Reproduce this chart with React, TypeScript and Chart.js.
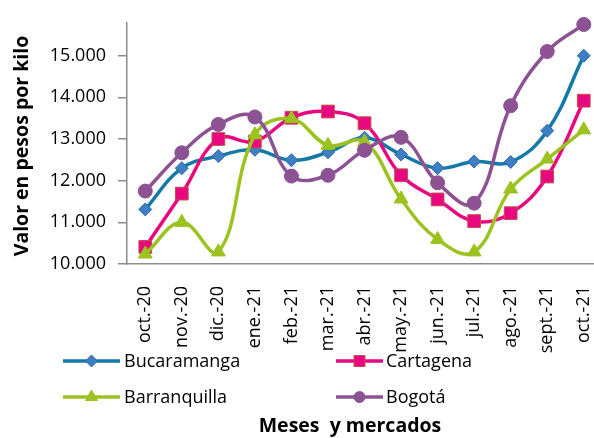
import { useEffect, useRef } from 'react';
import { Chart, registerables } from 'chart.js';
Chart.register(...registerables);

const categories = ['oct.-20', 'nov.-20', 'dic.-20', 'ene.-21', 'feb.-21', 'mar.-21', 'abr.-21', 'may.-21', 'jun.-21', 'jul.-21', 'ago.-21', 'sept.-21', 'oct.-21'];
const bucaramanga = [11310, 12300, 12590, 12740, 12490, 12680, 13030, 12630, 12300, 12460, 12450, 13200, 15000];
const cartagena = [10410, 11690, 13000, 12940, 13510, 13660, 13380, 12130, 11550, 11030, 11220, 12100, 13920];
const barranquilla = [10240, 11000, 10290, 13100, 13490, 12850, 12930, 11560, 10590, 10290, 11800, 12520, 13220];
const bogota = [11750, 12670, 13350, 13530, 12110, 12130, 12730, 13040, 11950, 11460, 13800, 15100, 15750];
const yTickValues = [10000, 11000, 12000, 13000, 14000, 15000];

const FONT = "'Open Sans', 'DejaVu Sans', sans-serif";

const legendItems = [
  { label: 'Bucaramanga', color: '#1479a7', fill: '#3c7fc2', border: '#2f6aa8', style: 'rectRot', r: 6.5, lr: 6, col: 0, row: 0 },
  { label: 'Cartagena', color: '#e8077f', fill: '#e8077f', border: '#c0504d', style: 'rect', r: 9, lr: 7.8, col: 1, row: 0 },
  { label: 'Barranquilla', color: '#9bc21f', fill: '#9bc21f', border: '#9bc21f', style: 'triangle', r: 8, lr: 7, col: 0, row: 1 },
  { label: 'Bogotá', color: '#8c5294', fill: '#8c5294', border: '#8c5294', style: 'circle', r: 7, lr: 5.5, col: 1, row: 1 },
];

const fmt = (v: number) => {
  const s = Math.round(v).toString();
  return s.replace(/\B(?=(\d{3})+(?!\d))/g, '.');
};

function drawMarker(ctx: CanvasRenderingContext2D, style: string, r: number, x: number, y: number) {
  ctx.beginPath();
  if (style === 'circle') {
    ctx.arc(x, y, r, 0, Math.PI * 2);
  } else if (style === 'rect') {
    const s = r * Math.SQRT1_2;
    ctx.rect(x - s, y - s, 2 * s, 2 * s);
  } else if (style === 'rectRot') {
    ctx.moveTo(x, y - r);
    ctx.lineTo(x + r, y);
    ctx.lineTo(x, y + r);
    ctx.lineTo(x - r, y);
    ctx.closePath();
  } else if (style === 'triangle') {
    const k = (2 * Math.PI) / 3;
    ctx.moveTo(x, y - r);
    ctx.lineTo(x + Math.sin(k) * r, y - Math.cos(k) * r);
    ctx.lineTo(x - Math.sin(k) * r, y - Math.cos(k) * r);
    ctx.closePath();
  }
  ctx.fill();
  ctx.stroke();
}

const overlay = {
  id: 'overlay',
  afterDraw(chart: any) {
    const ctx = chart.ctx as CanvasRenderingContext2D;
    ctx.save();
    ctx.fillStyle = '#000';
    ctx.font = `bold 19.5px ${FONT}`;
    ctx.textAlign = 'center';
    ctx.textBaseline = 'middle';
    ctx.save();
    ctx.translate(22, 146);
    ctx.rotate(-Math.PI / 2);
    ctx.fillText('Valor en pesos por kilo', 0, 0);
    ctx.restore();
    ctx.fillText('Meses  y mercados', 350, 426);
    const cols = [{ x0: 63, x1: 120, tx: 124 }, { x0: 336, x1: 383, tx: 386 }];
    const rows = [361, 397];
    ctx.font = `18px ${FONT}`;
    ctx.textAlign = 'left';
    for (const it of legendItems) {
      const c = cols[it.col];
      const y = rows[it.row];
      ctx.strokeStyle = it.color;
      ctx.lineWidth = 3.5;
      ctx.beginPath();
      ctx.moveTo(c.x0, y);
      ctx.lineTo(c.x1, y);
      ctx.stroke();
      ctx.fillStyle = it.fill;
      ctx.strokeStyle = it.border;
      ctx.lineWidth = 1;
      drawMarker(ctx, it.style, it.lr, (c.x0 + c.x1) / 2, y);
      ctx.fillStyle = '#000';
      ctx.fillText(it.label, c.tx, y + 1);
    }
    ctx.restore();
  },
};

export default function App() {
  const ref = useRef<HTMLCanvasElement | null>(null);
  useEffect(() => {
    if (!ref.current) return;
    const series = [bucaramanga, cartagena, barranquilla, bogota];
    const chart = new Chart(ref.current, {
      type: 'line',
      data: {
        labels: categories,
        datasets: legendItems.map((it, i) => ({
          label: it.label,
          data: series[i],
          borderColor: it.color,
          backgroundColor: it.fill,
          pointBackgroundColor: it.fill,
          pointBorderColor: it.border,
          pointBorderWidth: 1,
          pointStyle: it.style as any,
          pointRadius: it.r,
          borderWidth: 3.5,
          tension: 0.4,
          fill: false,
          clip: false as any,
          order: 3 - i,
        })),
      },
      options: {
        animation: false,
        responsive: false,
        layout: { padding: { top: 22, right: 16.5, bottom: 0, left: 0 } },
        plugins: { legend: { display: false }, tooltip: { enabled: false } },
        scales: {
          x: {
            offset: true,
            grid: { display: false },
            border: { display: true, color: '#8c8c8c', width: 1.5 },
            ticks: {
              autoSkip: false,
              maxRotation: 90,
              minRotation: 90,
              padding: 14,
              color: '#000',
              font: { family: FONT, size: 18 },
            },
            afterFit: (s: any) => { s.height = 174; },
          },
          y: {
            min: 10000,
            max: 15790,
            afterBuildTicks: (s: any) => { s.ticks = yTickValues.map((v) => ({ value: v })); },
            grid: { display: true, drawOnChartArea: false, drawTicks: true, tickLength: 9, color: '#8c8c8c', lineWidth: 1.5 },
            border: { display: true, color: '#8c8c8c', width: 1.5 },
            ticks: {
              padding: 12,
              color: '#000',
              font: { family: FONT, size: 18 },
              callback: (v: any) => fmt(Number(v)),
            },
            afterFit: (s: any) => { s.width = 127; },
          },
        },
      },
      plugins: [overlay],
    });
    return () => chart.destroy();
  }, []);
  return (
    <div style={{ position: 'fixed', left: 0, top: 0, width: 594, height: 438, overflow: 'hidden', background: '#fff' }}>
      <canvas ref={ref} width={620} height={438} />
    </div>
  );
}
